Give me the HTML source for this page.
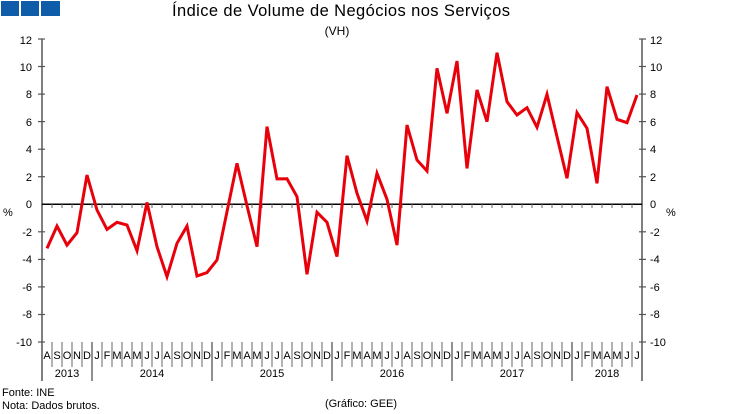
<!DOCTYPE html>
<html>
<head>
<meta charset="utf-8">
<style>
html,body{margin:0;padding:0;background:#fff;}
svg{display:block;}
text{font-family:"Liberation Sans",Arial,sans-serif;fill:#000;}
</style>
</head>
<body>
<svg width="750" height="414" viewBox="0 0 750 414" xmlns="http://www.w3.org/2000/svg">
<!-- logo -->
<rect x="1" y="1" width="18" height="15" fill="#0f5ca8"/>
<rect x="21" y="1" width="18" height="15" fill="#0f5ca8"/>
<rect x="41" y="1" width="19" height="15" fill="#0f5ca8"/>
<!-- title -->
<text x="172" y="16" font-size="16.5" textLength="338" lengthAdjust="spacing">Índice de Volume de Negócios nos Serviços</text>
<text x="337" y="35" font-size="12" text-anchor="middle">(VH)</text>

<!-- axes -->
<g stroke="#555" stroke-width="1.5" fill="none">
<line x1="42" y1="39" x2="42" y2="381"/>
<line x1="642" y1="39" x2="642" y2="381"/>
</g>
<g id="yt" stroke="#555" stroke-width="1.2">
<line x1="38" y1="39" x2="45" y2="39"/><line x1="38" y1="66.5" x2="45" y2="66.5"/><line x1="38" y1="94.1" x2="45" y2="94.1"/><line x1="38" y1="121.6" x2="45" y2="121.6"/><line x1="38" y1="149.2" x2="45" y2="149.2"/><line x1="38" y1="176.7" x2="45" y2="176.7"/><line x1="38" y1="231.8" x2="45" y2="231.8"/><line x1="38" y1="259.4" x2="45" y2="259.4"/><line x1="38" y1="286.9" x2="45" y2="286.9"/><line x1="38" y1="314.5" x2="45" y2="314.5"/><line x1="38" y1="342" x2="45" y2="342"/>
<line x1="639" y1="39" x2="646" y2="39"/><line x1="639" y1="66.5" x2="646" y2="66.5"/><line x1="639" y1="94.1" x2="646" y2="94.1"/><line x1="639" y1="121.6" x2="646" y2="121.6"/><line x1="639" y1="149.2" x2="646" y2="149.2"/><line x1="639" y1="176.7" x2="646" y2="176.7"/><line x1="639" y1="231.8" x2="646" y2="231.8"/><line x1="639" y1="259.4" x2="646" y2="259.4"/><line x1="639" y1="286.9" x2="646" y2="286.9"/><line x1="639" y1="314.5" x2="646" y2="314.5"/><line x1="639" y1="342" x2="646" y2="342"/>
</g>
<g font-size="11" text-anchor="end">
<text x="32" y="44">12</text><text x="32" y="71">10</text><text x="32" y="98">8</text><text x="32" y="126">6</text><text x="32" y="153">4</text><text x="32" y="181">2</text><text x="32" y="208">0</text><text x="32" y="236">-2</text><text x="32" y="263">-4</text><text x="32" y="291">-6</text><text x="32" y="318">-8</text><text x="32" y="346">-10</text>
</g>
<g font-size="11" text-anchor="start">
<text x="650" y="44">12</text><text x="650" y="71">10</text><text x="650" y="98">8</text><text x="650" y="126">6</text><text x="650" y="153">4</text><text x="650" y="181">2</text><text x="650" y="208">0</text><text x="650" y="236">-2</text><text x="650" y="263">-4</text><text x="650" y="291">-6</text><text x="650" y="318">-8</text><text x="650" y="346">-10</text>
</g>
<text x="3" y="216" font-size="11">%</text>
<text x="666" y="216" font-size="11">%</text>

<!-- zero line with ticks -->
<line x1="42" y1="204.3" x2="642" y2="204.3" stroke="#000" stroke-width="1.5"/>
<path stroke="#666" stroke-width="1" fill="none" d="M52 204v4M62 204v4M72 204v4M82 204v4M92 204v4M102 204v4M112 204v4M122 204v4M132 204v4M142 204v4M152 204v4M162 204v4M172 204v4M182 204v4M192 204v4M202 204v4M212 204v4M222 204v4M232 204v4M242 204v4M252 204v4M262 204v4M272 204v4M282 204v4M292 204v4M302 204v4M312 204v4M322 204v4M332 204v4M342 204v4M352 204v4M362 204v4M372 204v4M382 204v4M392 204v4M402 204v4M412 204v4M422 204v4M432 204v4M442 204v4M452 204v4M462 204v4M472 204v4M482 204v4M492 204v4M502 204v4M512 204v4M522 204v4M532 204v4M542 204v4M552 204v4M562 204v4M572 204v4M582 204v4M592 204v4M602 204v4M612 204v4M622 204v4M632 204v4"/>

<!-- month separators -->
<path stroke="#666" stroke-width="1" fill="none" d="M52 342v25M62 342v25M72 342v25M82 342v25M102 342v25M112 342v25M122 342v25M132 342v25M142 342v25M152 342v25M162 342v25M172 342v25M182 342v25M192 342v25M202 342v25M222 342v25M232 342v25M242 342v25M252 342v25M262 342v25M272 342v25M282 342v25M292 342v25M302 342v25M312 342v25M322 342v25M342 342v25M352 342v25M362 342v25M372 342v25M382 342v25M392 342v25M402 342v25M412 342v25M422 342v25M432 342v25M442 342v25M462 342v25M472 342v25M482 342v25M492 342v25M502 342v25M512 342v25M522 342v25M532 342v25M542 342v25M552 342v25M562 342v25M582 342v25M592 342v25M602 342v25M612 342v25M622 342v25M632 342v25"/>
<path stroke="#555" stroke-width="1.3" fill="none" d="M92 342v39M212 342v39M332 342v39M452 342v39M572 342v39"/>

<g font-size="11" text-anchor="middle">
<text x="47" y="359">A</text><text x="57" y="359">S</text><text x="67" y="359">O</text><text x="77" y="359">N</text><text x="87" y="359">D</text>
<text x="97" y="359">J</text><text x="107" y="359">F</text><text x="117" y="359">M</text><text x="127" y="359">A</text><text x="137" y="359">M</text><text x="147" y="359">J</text><text x="157" y="359">J</text><text x="167" y="359">A</text><text x="177" y="359">S</text><text x="187" y="359">O</text><text x="197" y="359">N</text><text x="207" y="359">D</text>
<text x="217" y="359">J</text><text x="227" y="359">F</text><text x="237" y="359">M</text><text x="247" y="359">A</text><text x="257" y="359">M</text><text x="267" y="359">J</text><text x="277" y="359">J</text><text x="287" y="359">A</text><text x="297" y="359">S</text><text x="307" y="359">O</text><text x="317" y="359">N</text><text x="327" y="359">D</text>
<text x="337" y="359">J</text><text x="347" y="359">F</text><text x="357" y="359">M</text><text x="367" y="359">A</text><text x="377" y="359">M</text><text x="387" y="359">J</text><text x="397" y="359">J</text><text x="407" y="359">A</text><text x="417" y="359">S</text><text x="427" y="359">O</text><text x="437" y="359">N</text><text x="447" y="359">D</text>
<text x="457" y="359">J</text><text x="467" y="359">F</text><text x="477" y="359">M</text><text x="487" y="359">A</text><text x="497" y="359">M</text><text x="507" y="359">J</text><text x="517" y="359">J</text><text x="527" y="359">A</text><text x="537" y="359">S</text><text x="547" y="359">O</text><text x="557" y="359">N</text><text x="567" y="359">D</text>
<text x="577" y="359">J</text><text x="587" y="359">F</text><text x="597" y="359">M</text><text x="607" y="359">A</text><text x="617" y="359">M</text><text x="627" y="359">J</text><text x="637" y="359">J</text>
<text x="67" y="377">2013</text>
<text x="152" y="377">2014</text>
<text x="272" y="377">2015</text>
<text x="392" y="377">2016</text>
<text x="512" y="377">2017</text>
<text x="607" y="377">2018</text>
</g>

<!-- data line -->
<polyline fill="none" stroke="#e8000b" stroke-width="3" stroke-linejoin="miter" stroke-miterlimit="4" points="
47,248.4 57,226.1 67,245.1 77,232.7 87,175.0
97,210.0 107,229.4 117,222.3 127,225.0 137,250.7 147,202.4 157,246.7 167,276.7 177,243.3 187,226.1 197,276.0 207,272.6
217,260.0 227,211.7 237,163.3 247,205.7 257,246.7 267,126.6 277,178.9 287,178.8 297,196.7 307,274.3 317,212.3 327,222.3
337,256.6 347,155.7 357,193.3 367,221.0 377,173.3 387,199.3 397,245.1 407,125.0 417,160.0 427,171.0 437,68.3 447,113.3
457,61.0 467,168.4 477,90.0 487,121.7 497,52.7 507,101.7 517,115.0 527,107.7 537,127.3 547,94.3 557,136.7 567,178.3
577,112.7 587,128.3 597,183.4 607,86.7 617,119.3 627,122.7 637,95.0"/>

<!-- footer -->
<text x="2" y="396" font-size="11">Fonte: INE</text>
<text x="2" y="409" font-size="11">Nota: Dados brutos.</text>
<text x="361" y="407" font-size="11" text-anchor="middle">(Gráfico: GEE)</text>
</svg>
</body>
</html>
